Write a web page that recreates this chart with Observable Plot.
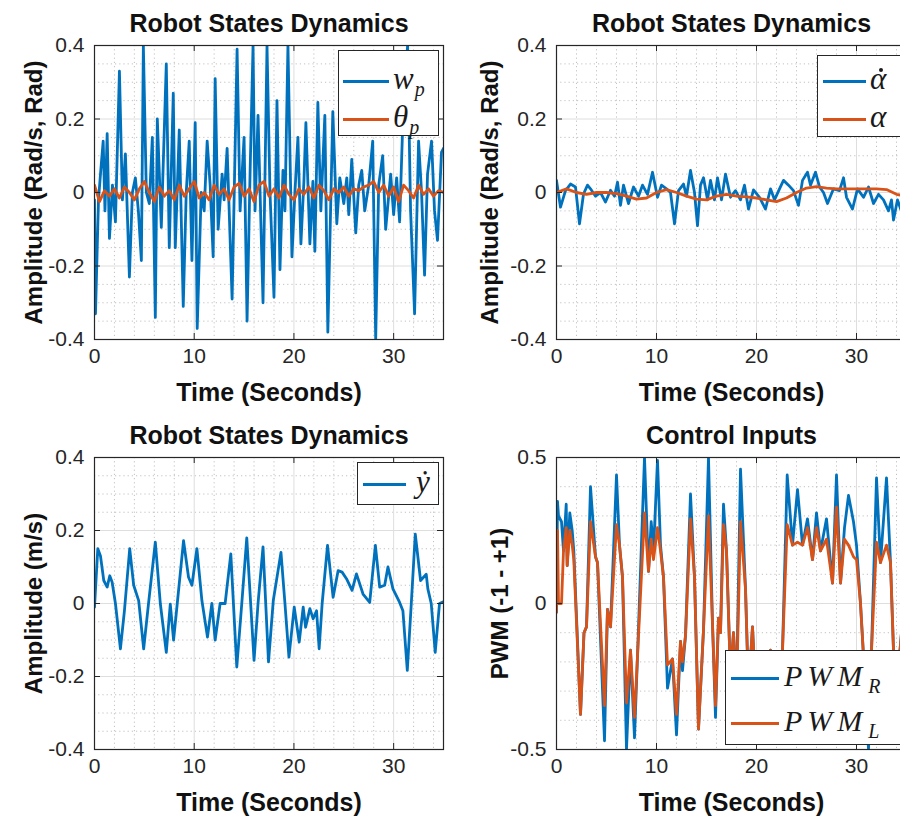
<!DOCTYPE html>
<html><head><meta charset="utf-8">
<script src="https://cdn.jsdelivr.net/npm/d3@7"></script>
<script src="https://cdn.jsdelivr.net/npm/@observablehq/plot@0.6"></script>
<style>
html,body{margin:0;padding:0;background:#fff;overflow:hidden;}
#root{position:relative;width:900px;height:821px;overflow:hidden;background:#fff;font-family:"Liberation Sans",Arial,sans-serif;}
.panel{position:absolute;}
.legend{position:absolute;background:#fff;border:1px solid #262626;box-sizing:border-box;}
.sw{position:absolute;height:3px;}
.lt{position:absolute;font-family:"Liberation Serif","DejaVu Serif",serif;font-style:italic;font-size:31px;color:#1a1a1a;line-height:1;white-space:nowrap;transform:translateY(-58%);}
.lt .s{font-size:20px;position:relative;top:7px;margin-left:1px;}
.lt .w{letter-spacing:5px;}
.dt{position:relative;display:inline-block;}
.dd{position:absolute;width:4px;height:4px;border-radius:50%;background:#1a1a1a;left:58%;top:5px;}
</style></head>
<body><div id="root"></div>
<script>
// ---------- data ----------
const xTicks = [0, 10, 20, 30];
const yTicksA = [-0.4, -0.2, 0, 0.2, 0.4];
const yTicksB = [-0.5, 0, 0.5];

const titles = ["Robot States Dynamics", "Robot States Dynamics", "Robot States Dynamics", "Control Inputs"];
const yLabels = ["Amplitude (Rad/s, Rad)", "Amplitude (Rad/s, Rad)", "Amplitude (m/s)", "PWM (-1 - +1)"];
const xLabel = "Time (Seconds)";

// [time, value]
const wpData = [[0,-0.02],[0.1,-0.33],[0.4,-0.02],[0.6,0.05],[0.87,0.14],[1.05,-0.05],[1.27,0.16],[1.5,-0.125],[1.8,0.02],[2.1,-0.08],[2.5,0.33],[2.8,-0.02],[3.1,0.105],[3.5,-0.23],[3.8,0.0],[4.1,0.04],[4.4,-0.05],[4.7,-0.185],[4.9,0.4],[5.2,0.0],[5.5,-0.03],[5.8,0.15],[6.1,-0.34],[6.3,0.2],[6.7,-0.095],[7.2,0.35],[7.5,-0.15],[7.9,0.27],[8.1,-0.15],[8.5,0.17],[8.9,-0.31],[9.2,0.0],[9.5,0.14],[9.77,-0.185],[10.1,0.19],[10.3,-0.37],[10.7,0.0],[11.0,-0.05],[11.3,0.14],[11.6,0.02],[11.9,-0.175],[12.1,0.31],[12.4,-0.1],[12.8,0.05],[13.0,-0.02],[13.3,0.12],[13.8,-0.29],[14.3,0.39],[14.6,-0.05],[15.0,0.15],[15.3,-0.35],[15.6,0.05],[15.9,0.4],[16.1,-0.05],[16.4,0.21],[16.9,-0.3],[17.3,0.4],[17.6,0.0],[18.0,-0.285],[18.3,0.25],[18.6,-0.21],[18.9,0.06],[19.1,-0.05],[19.4,0.4],[19.8,-0.175],[20.1,0.0],[20.4,0.15],[20.7,-0.14],[21.0,0.03],[21.2,0.19],[21.6,-0.14],[21.9,0.03],[22.1,-0.16],[22.4,0.245],[22.7,-0.05],[23.1,0.21],[23.4,-0.38],[23.9,0.22],[24.3,-0.085],[24.6,0.04],[25.0,-0.03],[25.3,0.04],[25.5,-0.06],[25.8,0.09],[26.2,-0.11],[26.5,0.02],[26.8,0.06],[27.1,-0.05],[27.5,0.02],[27.9,0.14],[28.2,-0.4],[28.5,0.02],[28.9,0.1],[29.2,-0.1],[29.7,0.05],[30.0,-0.06],[30.3,0.04],[30.6,-0.08],[31.0,0.26],[31.4,0.4],[31.7,-0.05],[32.1,-0.33],[32.5,0.14],[32.8,0.0],[33.1,-0.225],[33.4,0.05],[33.8,0.14],[34.1,-0.05],[34.4,-0.13],[34.8,0.11],[35.0,0.12]];

const thetaData = [[0,0.02],[0.5,-0.025],[1,0.005],[1.5,-0.01],[2,0.01],[2.5,-0.015],[3,0.015],[3.5,0.0],[4,-0.02],[4.5,0.01],[5,0.03],[5.5,0.0],[6,-0.025],[6.5,0.015],[7,-0.01],[7.5,0.005],[8,-0.02],[8.5,0.02],[9,-0.01],[9.5,0.01],[10,0.03],[10.5,-0.015],[11,0.0],[11.5,-0.02],[12,0.02],[12.5,-0.005],[13,0.01],[13.5,-0.02],[14,0.015],[14.5,0.025],[15,-0.01],[15.5,0.01],[16,-0.025],[16.5,0.02],[17,0.03],[17.5,-0.01],[18,0.01],[18.5,-0.015],[19,0.02],[19.5,-0.005],[20,-0.02],[20.5,0.01],[21,-0.005],[21.5,0.015],[22,-0.015],[22.5,0.02],[23,0.005],[23.5,-0.02],[24,0.01],[24.5,0.0],[25,0.015],[25.5,-0.01],[26,0.01],[26.5,0.005],[27,0.015],[27.5,0.02],[28,0.03],[28.5,0.0],[29,0.02],[29.5,-0.01],[30,0.015],[30.5,-0.025],[31,0.02],[31.5,0.005],[32,-0.015],[32.5,0.02],[33,-0.005],[33.5,0.01],[34,-0.01],[34.5,0.005],[35,0.0]];

const alphaDotData = [[0,0.033],[0.4,-0.04],[0.9,0.005],[1.4,0.023],[1.9,0.015],[2.3,-0.085],[2.7,-0.004],[3.1,0.02],[3.4,0.01],[3.9,-0.01],[4.4,0.0],[4.9,-0.026],[5.4,0.006],[5.8,-0.01],[6.1,0.028],[6.4,-0.035],[6.7,0.02],[7.2,-0.03],[7.7,0.015],[8.2,-0.01],[8.6,0.02],[9.1,-0.005],[9.6,0.055],[10.1,-0.013],[10.5,0.02],[11.0,0.01],[11.4,0.0],[11.8,-0.085],[12.2,0.005],[12.7,0.023],[13.0,-0.01],[13.4,0.06],[13.8,0.0],[14.1,-0.09],[14.4,0.02],[14.7,0.04],[15.1,-0.02],[15.4,0.033],[15.8,-0.02],[16.1,0.04],[16.5,-0.02],[16.9,0.05],[17.4,-0.013],[17.9,0.005],[18.4,-0.02],[18.8,0.02],[19.2,-0.045],[19.7,0.007],[20.3,-0.013],[20.9,-0.045],[21.4,0.01],[21.8,-0.02],[22.3,0.01],[22.7,0.033],[23.2,0.02],[23.7,0.005],[24.2,-0.035],[24.6,0.033],[25.1,0.055],[25.4,0.02],[25.9,0.055],[26.3,0.015],[26.7,0.0],[27.1,-0.03],[27.7,0.01],[28.3,0.005],[28.7,0.04],[29.0,-0.013],[29.6,-0.045],[30.1,0.01],[30.7,-0.013],[31.2,0.015],[31.7,-0.03],[32.2,-0.005],[32.7,-0.02],[33.2,-0.05],[33.5,-0.02],[33.7,-0.075],[34.1,-0.02],[34.6,-0.06],[35,-0.04]];

const alphaData = [[0,0.0],[1,0.01],[2,0.0],[3,-0.005],[4,0.0],[5,0.0],[6,-0.003],[7,-0.01],[8,-0.018],[9,-0.015],[10,0.0],[11,0.008],[12,0.0],[13,-0.01],[14,-0.018],[15,-0.02],[16,-0.01],[17,-0.005],[18,-0.01],[19,-0.012],[20,-0.015],[21,-0.02],[22,-0.025],[23,-0.015],[24,0.0],[25,0.012],[26,0.016],[27,0.012],[28,0.01],[29,0.01],[30,0.01],[31,0.01],[32,0.01],[33,0.008],[34,-0.005],[35,-0.01]];

const yDotData = [[0,-0.01],[0.33,0.15],[0.6,0.13],[0.93,0.063],[1.27,0.045],[1.53,0.076],[1.77,0.058],[2.1,0.0],[2.6,-0.124],[3.0,-0.02],[3.53,0.15],[3.93,0.05],[4.43,0.008],[4.93,-0.124],[5.43,0.003],[6.1,0.168],[6.6,0.0],[7.2,-0.134],[7.6,-0.002],[7.93,-0.1],[8.3,0.0],[8.93,0.172],[9.43,0.072],[9.77,0.05],[10.27,0.15],[10.77,0.008],[11.33,-0.092],[11.77,0.0],[12.1,-0.1],[12.6,0.0],[13.1,0.0],[13.67,0.136],[14.27,-0.174],[14.77,0.0],[15.27,0.18],[16.0,-0.156],[16.4,0.0],[16.9,0.155],[17.45,-0.16],[17.93,0.008],[18.7,0.14],[19.1,0.0],[19.5,-0.147],[20.03,-0.01],[20.53,-0.106],[20.93,-0.01],[21.17,-0.065],[21.6,-0.014],[21.93,-0.042],[22.27,-0.02],[22.53,-0.124],[22.83,0.0],[23.37,0.159],[23.93,0.017],[24.43,0.09],[24.83,0.086],[25.27,0.068],[25.83,0.036],[26.27,0.081],[26.93,0.026],[27.6,0.003],[28.17,0.159],[28.6,0.045],[29.1,0.05],[29.43,0.1],[29.93,0.04],[30.6,0.003],[30.93,-0.02],[31.37,-0.183],[31.77,0.0],[32.17,0.19],[32.7,0.063],[33.27,0.08],[33.43,0.04],[33.77,0.0],[34.17,-0.134],[34.6,0.0],[35.0,0.005]];

// [time, PWM_R, PWM_L]
const pwmData = [[0,-0.03,-0.03],[0.1,0.35,0.25],[0.2,0.3,0.0],[0.5,0.28,0.0],[0.7,0.18,0.18],[0.97,0.34,0.26],[1.07,0.13,0.13],[1.33,0.31,0.25],[1.57,0.25,0.2],[1.73,0.18,0.15],[2.4,-0.38,-0.38],[2.75,-0.1,-0.1],[3.0,-0.08,-0.08],[3.4,0.4,0.28],[3.9,0.16,0.16],[4.1,0.14,0.14],[4.8,-0.47,-0.35],[5.1,-0.02,-0.02],[5.4,-0.08,-0.08],[6.0,0.44,0.27],[6.3,0.2,0.2],[6.6,0.09,0.09],[7.0,-0.5,-0.34],[7.4,-0.16,-0.16],[7.8,-0.46,-0.39],[8.1,-0.18,-0.18],[8.8,0.5,0.31],[9.2,0.11,0.11],[9.47,0.28,0.22],[9.7,0.18,0.15],[10.1,0.49,0.26],[10.4,0.2,0.18],[10.7,0.09,0.09],[11.1,-0.29,-0.21],[11.6,-0.19,-0.19],[12.0,-0.45,-0.38],[12.4,-0.13,-0.13],[12.6,-0.23,-0.2],[12.9,-0.11,-0.11],[13.4,0.375,0.29],[13.8,0.09,0.09],[14.2,-0.43,-0.43],[14.7,-0.09,-0.09],[15.2,0.5,0.3],[15.6,-0.07,-0.07],[15.9,-0.39,-0.35],[16.2,-0.05,-0.05],[16.4,-0.1,-0.1],[16.7,0.34,0.27],[17.0,0.18,0.18],[17.4,-0.25,-0.25],[17.7,-0.1,-0.1],[18.0,-0.3,-0.3],[18.4,0.46,0.28],[18.9,0.05,0.05],[19.2,-0.3,-0.3],[19.6,-0.08,-0.08],[19.9,-0.3,-0.3],[20.5,-0.35,-0.35],[21.4,-0.16,-0.16],[21.8,-0.3,-0.3],[22.6,-0.16,-0.16],[23.07,0.44,0.27],[23.6,0.2,0.2],[24.1,0.39,0.21],[24.6,0.2,0.2],[25.1,0.29,0.26],[25.6,0.15,0.15],[26.0,0.31,0.26],[26.4,0.18,0.18],[27.0,0.29,0.22],[27.6,0.07,0.07],[28.0,0.44,0.33],[28.4,0.07,0.07],[28.8,0.26,0.22],[29.2,0.37,0.2],[29.7,0.28,0.16],[30.0,0.2,0.15],[30.4,0.0,0.0],[30.9,-0.3,-0.3],[31.2,-0.5,-0.4],[31.5,-0.16,-0.16],[32.0,0.43,0.21],[32.4,0.14,0.14],[33.0,0.43,0.2],[33.4,0.14,0.14],[33.7,-0.16,-0.16],[34.0,-0.3,-0.3],[34.5,-0.1,-0.1],[35.0,-0.2,-0.2]];

const BLUE = "#0072BD", ORANGE = "#D95319", AX = "#262626";

// ---------- drawing ----------
const root = document.getElementById("root");

function toRows(arr, col) { return arr.map(d => ({t: d[0], v: d[col]})); }

function panel(cfg) {
  const {left, top, width, height, ml, mr, mt, mb, yDomain, yTicks, yMinorStep, series, title, ylabel, ylabelDx} = cfg;
  const xMinor = d3.range(0, 35.001, 2).filter(v => !xTicks.includes(v));
  const nMinor = Math.round((yDomain[1] - yDomain[0]) / yMinorStep);
  const yMinor = d3.range(0, nMinor + 1).map(i => +(yDomain[0] + i * yMinorStep).toFixed(4))
    .filter(v => !yTicks.some(t => Math.abs(t - v) < 1e-6));
  const pw = width - ml - mr, ph = height - mt - mb;
  const yLen = (yDomain[1] - yDomain[0]) * 6 / ph;
  const xLen = 35 * 6 / pw;
  const marks = [
    Plot.ruleX(xMinor, {stroke: "#a8a8a8", strokeOpacity: 0.7, strokeDasharray: "1.2,3"}),
    Plot.ruleY(yMinor, {stroke: "#a8a8a8", strokeOpacity: 0.7, strokeDasharray: "1.2,3"}),
    Plot.ruleX(xTicks, {stroke: "#dedede"}),
    Plot.ruleY(yTicks, {stroke: "#dedede"}),
    ...series.map(s => Plot.line(s.rows, {x: "t", y: "v", stroke: s.color, strokeWidth: 2.8, clip: true, strokeLinejoin: "round"})),
    Plot.ruleX(xTicks, {y1: yDomain[0], y2: yDomain[0] + yLen, stroke: AX}),
    Plot.ruleX(xTicks, {y1: yDomain[1], y2: yDomain[1] - yLen, stroke: AX}),
    Plot.ruleY(yTicks, {x1: 0, x2: xLen, stroke: AX}),
    Plot.ruleY(yTicks, {x1: 35, x2: 35 - xLen, stroke: AX}),
    Plot.frame({stroke: AX, strokeWidth: 1.2}),
    Plot.axisX(xTicks, {tickSize: 0, tickPadding: 9, tickFormat: d => String(d), label: null, fontSize: 21, fill: "#262626"}),
    Plot.axisY(yTicks, {tickSize: 0, tickPadding: 10, tickFormat: d => String(d), label: null, fontSize: 21, fill: "#262626"}),
    Plot.text([title], {text: d => d, frameAnchor: "top", dy: -14, lineAnchor: "bottom", fontWeight: "bold", fontSize: 25, fill: "#111"}),
    Plot.text([xLabel], {text: d => d, frameAnchor: "bottom", dy: 61, lineAnchor: "bottom", fontWeight: "bold", fontSize: 25, fill: "#111"}),
    Plot.text([ylabel], {text: d => d, frameAnchor: "left", dx: ylabelDx, rotate: -90, textAnchor: "middle", lineAnchor: "middle", fontWeight: "bold", fontSize: 24, fill: "#111"})
  ];
  const svg = Plot.plot({
    width, height,
    marginLeft: ml, marginRight: mr, marginTop: mt, marginBottom: mb,
    x: {domain: [0, 35]},
    y: {domain: yDomain},
    style: {fontFamily: "'Liberation Sans', Arial, sans-serif", fontSize: "21px", background: "transparent", overflow: "visible"},
    marks
  });
  svg.classList.add("panel");
  svg.style.left = left + "px";
  svg.style.top = top + "px";
  root.appendChild(svg);
}

function legend(cfg) {
  const div = document.createElement("div");
  div.className = "legend";
  Object.assign(div.style, {left: cfg.left + "px", top: cfg.top + "px", width: cfg.width + "px", height: cfg.height + "px"});
  cfg.rows.forEach(r => {
    const sw = document.createElement("div");
    sw.className = "sw";
    Object.assign(sw.style, {left: cfg.lx + "px", width: cfg.lw + "px", top: (r.y - 1.5) + "px", background: r.color});
    div.appendChild(sw);
    const t = document.createElement("div");
    t.className = "lt";
    Object.assign(t.style, {left: cfg.tx + "px", top: r.y + "px"});
    if (cfg.fontSize) t.style.fontSize = cfg.fontSize + "px";
    t.innerHTML = r.html;
    div.appendChild(t);
  });
  root.appendChild(div);
}

// Panel 1
panel({left: 0, top: 0, width: 450, height: 410, ml: 94, mr: 7, mt: 45, mb: 71,
  yDomain: [-0.4, 0.4], yTicks: yTicksA, yMinorStep: 0.05,
  series: [{rows: toRows(wpData, 1), color: BLUE}, {rows: toRows(thetaData, 1), color: ORANGE}],
  title: titles[0], ylabel: yLabels[0], ylabelDx: -60});
// Panel 2
panel({left: 450, top: 0, width: 460, height: 410, ml: 106, mr: 4, mt: 45, mb: 71,
  yDomain: [-0.4, 0.4], yTicks: yTicksA, yMinorStep: 0.05,
  series: [{rows: toRows(alphaDotData, 1), color: BLUE}, {rows: toRows(alphaData, 1), color: ORANGE}],
  title: titles[1], ylabel: yLabels[1], ylabelDx: -66});
// Panel 3
panel({left: 0, top: 410, width: 450, height: 411, ml: 94, mr: 7, mt: 47, mb: 72,
  yDomain: [-0.4, 0.4], yTicks: yTicksA, yMinorStep: 0.05,
  series: [{rows: toRows(yDotData, 1), color: BLUE}],
  title: titles[2], ylabel: yLabels[2], ylabelDx: -60});
// Panel 4
panel({left: 450, top: 410, width: 460, height: 411, ml: 106, mr: 4, mt: 47, mb: 72,
  yDomain: [-0.5, 0.5], yTicks: yTicksB, yMinorStep: 0.1,
  series: [{rows: toRows(pwmData, 1), color: BLUE}, {rows: toRows(pwmData, 2), color: ORANGE}],
  title: titles[3], ylabel: yLabels[3], ylabelDx: -56});

// Legends
legend({left: 338, top: 50, width: 101, height: 86, lx: 4, lw: 46, tx: 54,
  rows: [{y: 30, color: BLUE, html: 'w<span class="s">p</span>'},
         {y: 68, color: ORANGE, html: 'θ<span class="s">p</span>'}]});
legend({left: 817, top: 55, width: 120, height: 82, lx: 5, lw: 43, tx: 52,
  rows: [{y: 25, color: BLUE, html: '<span class="dt">α<span class="dd"></span></span>'},
         {y: 63, color: ORANGE, html: 'α'}]});
legend({left: 357, top: 462, width: 82, height: 43, lx: 5, lw: 43, tx: 58,
  rows: [{y: 21, color: BLUE, html: '\u1E8F'}]});
legend({left: 725, top: 650, width: 200, height: 95, lx: 5, lw: 48, tx: 58, fontSize: 30,
  rows: [{y: 27, color: BLUE, html: '<span class="w">PWM</span><span class="s">R</span>'},
         {y: 72, color: ORANGE, html: '<span class="w">PWM</span><span class="s">L</span>'}]});
</script>
</body></html>
